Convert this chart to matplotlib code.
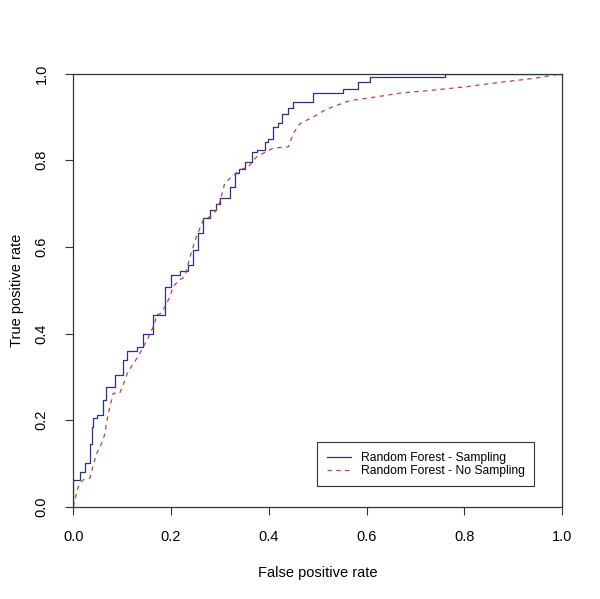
import numpy as np
import matplotlib
matplotlib.use('Agg')
import matplotlib.pyplot as plt

plt.rcParams['font.family'] = ['Liberation Sans', 'DejaVu Sans']

# ROC curve, Random Forest with sampling (step curve vertices)
fpr_sampling = [0.0, 0.0, 0.003, 0.014, 0.014, 0.024, 0.024, 0.034, 0.034, 0.038, 0.041,
                0.048, 0.048, 0.061, 0.068, 0.075, 0.085, 0.094, 0.102, 0.109, 0.117,
                0.13, 0.13, 0.142, 0.15, 0.164, 0.174, 0.188, 0.188, 0.201, 0.208,
                0.218, 0.22, 0.235, 0.235, 0.245, 0.256, 0.266, 0.28, 0.293, 0.301,
                0.31, 0.32, 0.331, 0.34, 0.351, 0.365, 0.375, 0.392, 0.399, 0.409,
                0.409, 0.419, 0.426, 0.433, 0.44, 0.45, 0.46, 0.49, 0.49, 0.494,
                0.552, 0.552, 0.583, 0.585, 0.607, 0.607, 0.76, 0.76, 1.0]
tpr_sampling = [0.0, 0.04, 0.062, 0.062, 0.081, 0.081, 0.10, 0.10, 0.127, 0.146, 0.185,
                0.204, 0.213, 0.213, 0.246, 0.276, 0.276, 0.304, 0.304, 0.339, 0.36,
                0.36, 0.37, 0.37, 0.398, 0.398, 0.443, 0.443, 0.47, 0.508, 0.535,
                0.535, 0.545, 0.545, 0.558, 0.558, 0.593, 0.631, 0.666, 0.685, 0.70,
                0.712, 0.712, 0.739, 0.77, 0.781, 0.797, 0.82, 0.824, 0.843, 0.85,
                0.862, 0.878, 0.885, 0.908, 0.908, 0.92, 0.935, 0.935, 0.947, 0.955,
                0.955, 0.964, 0.964, 0.981, 0.981, 0.992, 0.992, 1.0, 1.0]

# ROC curve, Random Forest without sampling
fpr_nosampling = [0.0, 0.003, 0.007, 0.01, 0.02, 0.034, 0.041, 0.048, 0.055, 0.061, 0.065,
                  0.068, 0.075, 0.082, 0.095, 0.102, 0.112, 0.126, 0.14, 0.153, 0.167,
                  0.17, 0.181, 0.191, 0.198, 0.204, 0.218, 0.228, 0.239, 0.252, 0.266,
                  0.28, 0.293, 0.30, 0.31, 0.324, 0.341, 0.358, 0.375, 0.395, 0.409,
                  0.44, 0.45, 0.464, 0.491, 0.518, 0.566, 0.60, 0.668, 0.736, 0.805,
                  0.873, 0.941, 1.0]
tpr_nosampling = [0.0, 0.015, 0.031, 0.045, 0.062, 0.066, 0.096, 0.123, 0.139, 0.154, 0.17,
                  0.193, 0.231, 0.262, 0.262, 0.281, 0.312, 0.335, 0.362, 0.389, 0.424,
                  0.443, 0.447, 0.47, 0.485, 0.508, 0.524, 0.531, 0.577, 0.624, 0.662,
                  0.67, 0.685, 0.704, 0.747, 0.762, 0.778, 0.785, 0.808, 0.82, 0.828,
                  0.831, 0.862, 0.885, 0.90, 0.918, 0.938, 0.943, 0.955, 0.962, 0.97,
                  0.98, 0.989, 1.0]

ticks = [0.0, 0.2, 0.4, 0.6, 0.8, 1.0]
tick_labels = ['0.0', '0.2', '0.4', '0.6', '0.8', '1.0']

fig = plt.figure(figsize=(6.0, 5.99), dpi=100)
ax = fig.add_axes([0.122, 0.154, 0.815, 0.723])

# sampling curve is a staircase: up first, then across
ax.plot(fpr_sampling, tpr_sampling, color='#2e2e8c', lw=0.9, drawstyle='steps-pre',
        label='Random Forest - Sampling')
ax.plot(fpr_nosampling, tpr_nosampling, color='#b5463f', lw=0.9,
        linestyle=(0, (3.5, 3.5)), label='Random Forest - No Sampling')

ax.set_xlim(0, 1)
ax.set_ylim(0, 1)
ax.set_xticks(ticks)
ax.set_xticklabels(tick_labels)
ax.set_yticks(ticks)
ax.set_yticklabels(tick_labels, rotation=90, va='center')

for s in ax.spines.values():
    s.set_color('#333333')
    s.set_linewidth(0.9)
ax.tick_params(length=5.8, width=0.8, color='#333333', labelsize=10.5, pad=11)
ax.tick_params(axis='y', pad=12)

ax.set_xlabel('False positive rate', fontsize=10.5)
ax.set_ylabel('True positive rate', fontsize=10.5)
ax.xaxis.label.set_va('center')
ax.yaxis.label.set_va('center')
ax.xaxis.set_label_coords(0.5, -0.153)
ax.yaxis.set_label_coords(-0.115, 0.5)

leg = ax.legend(loc='upper left', bbox_to_anchor=(0.4985, 0.149), fontsize=8.7,
                fancybox=False, framealpha=1, edgecolor='#333333',
                handlelength=1.98, handletextpad=0.83, borderpad=0.8,
                labelspacing=0.07, borderaxespad=0)
leg.get_frame().set_linewidth(0.8)

fig.savefig('out.png', dpi=100)
